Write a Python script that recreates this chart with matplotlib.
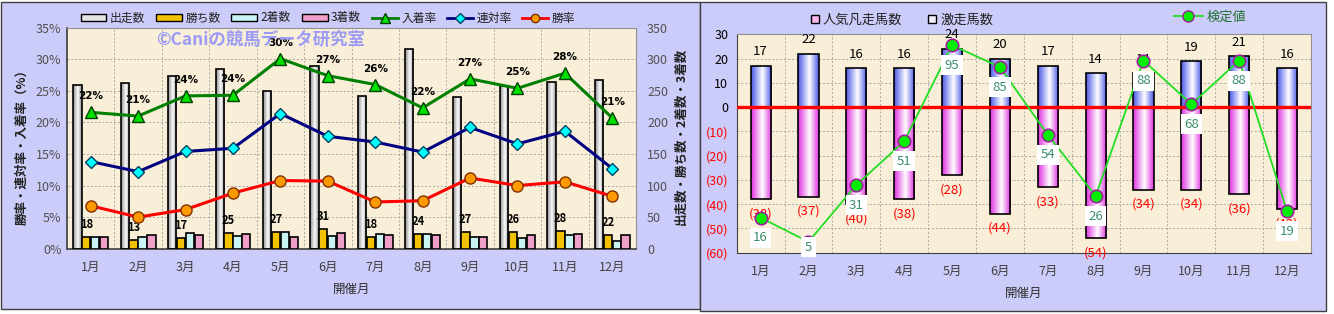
import numpy as np
import matplotlib.pyplot as plt
from matplotlib.patches import Rectangle
from matplotlib.lines import Line2D
from matplotlib.colors import LinearSegmentedColormap

plt.rcParams['font.family'] = ['Noto Sans CJK JP', 'DejaVu Sans']

# ---- data: left chart ----
months = [f'{i}月' for i in range(1, 13)]
starts = [260, 263, 274, 284, 250, 290, 242, 316, 241, 258, 264, 267]   # 出走数
wins = [18, 13, 17, 25, 27, 31, 18, 24, 27, 26, 28, 22]                # 勝ち数
seconds = [18, 19, 25, 20, 26, 20, 23, 24, 19, 17, 21, 12]             # 2着数
thirds = [18, 22, 22, 23, 19, 25, 21, 21, 18, 22, 23, 21]              # 3着数
place_rate = [21.6, 21.0, 24.2, 24.3, 30.1, 27.4, 26.0, 22.3, 26.9, 25.4, 27.8, 20.7]     # 入着率
quinella_rate = [13.8, 12.2, 15.4, 15.9, 21.4, 17.8, 16.9, 15.3, 19.2, 16.6, 18.6, 12.7]  # 連対率
win_rate = [6.8, 5.0, 6.2, 8.8, 10.8, 10.7, 7.4, 7.6, 11.2, 10.0, 10.6, 8.3]            # 勝率

# ---- data: right chart ----
upset = [17, 22, 16, 16, 24, 20, 17, 14, 14, 19, 21, 16]                # 激走馬数
flop = [-38, -37, -40, -38, -28, -44, -33, -54, -34, -34, -36, -42]     # 人気凡走馬数
test_val = [16, 5, 31, 51, 95, 85, 54, 26, 88, 68, 88, 19]              # 検定値

W, H = 1334, 314
fig = plt.figure(figsize=(W / 100, H / 100), dpi=100)
fig.patch.set_facecolor('white')
lav = '#CCCCFA'
fig.add_artist(Rectangle((1 / W, 1 - 309 / H), 699 / W, 307 / H, transform=fig.transFigure,
                         fc=lav, ec='#404040', lw=1, zorder=-5))
fig.add_artist(Rectangle((700 / W, 1 - 311 / H), 626 / W, 309 / H, transform=fig.transFigure,
                         fc=lav, ec='#404040', lw=1, zorder=-5))

plot_bg = '#F9EFD8'
grid_kw = dict(color='#A8A8A8', lw=0.7, ls=(0, (2, 2)))
grad = np.linspace(0, 1, 64).reshape(1, -1)


def make_cmap(c):
    return LinearSegmentedColormap.from_list('g', [(0, c), (0.55, '#FFFFFF'), (1, c)])


def grad_bars(ax, xs, hs, w, cmap):
    bars = ax.bar(xs, hs, w, facecolor='none', edgecolor='black', lw=1.2, zorder=3)
    for b in bars:
        x0, y0 = b.get_x(), b.get_y()
        im = ax.imshow(grad, cmap=cmap, aspect='auto', interpolation='bicubic',
                       extent=(x0, x0 + b.get_width(), y0, y0 + b.get_height()), zorder=2.5)
        im.set_clip_path(b)
    return bars


x = np.arange(12) + 0.5

# ================= left chart =================
axL = fig.add_axes([67 / W, 1 - 248.7 / H, 569 / W, 221 / H])
axL.set_facecolor(plot_bg)
axP = axL.twinx()

bw = 0.175
grad_bars(axL, x - 0.28, starts, bw, make_cmap('#8C8C8C'))
axL.bar(x - 0.095, wins, bw, color='#F2C200', ec='black', lw=1.2, zorder=3)
axL.bar(x + 0.095, seconds, bw, color='#C8F4F4', ec='black', lw=1.2, zorder=3)
axL.bar(x + 0.28, thirds, bw, color='#F0A0C8', ec='black', lw=1.2, zorder=3)
for xi, v in zip(x, wins):
    axL.annotate(str(v), (xi - 0.095, v), xytext=(0, 9), textcoords='offset points',
                 ha='center', va='center', fontsize=8, fontweight='bold', zorder=6)

axL.set_xlim(0, 12)
axL.set_ylim(0, 350)
axL.set_yticks(range(0, 351, 50))
axL.set_xticks(x)
axL.set_xticklabels(months)
axL.set_xticks(range(13), minor=True)
axL.grid(axis='y', **grid_kw)
axL.grid(axis='x', which='minor', **grid_kw)
axL.set_axisbelow(True)
axL.yaxis.tick_right()
axL.tick_params(axis='y', length=0, labelsize=9, labelcolor='#505050', pad=8)
axL.tick_params(axis='x', which='both', length=0, labelsize=9, labelcolor='#404040', pad=9)
for s in ['top', 'right']:
    axL.spines[s].set_color('#909090')
for s in ['left', 'bottom']:
    axL.spines[s].set_color('#404040')
    axL.spines[s].set_linewidth(1.2)
axL.set_xlabel('開催月', fontsize=9, color='#303030', labelpad=6)

axP.plot(x, place_rate, color='#008000', lw=2.2, marker='^', ms=9, mfc='#00E000',
         mec='#004000', mew=1, zorder=5)
axP.plot(x, quinella_rate, color='#000080', lw=2.2, marker='D', ms=6, mfc='#00FFFF',
         mec='#004060', mew=1, zorder=5)
axP.plot(x, win_rate, color='#FF0000', lw=2.2, marker='o', ms=8, mfc='#FF9900',
         mec='#803000', mew=1, zorder=5)
for xi, v in zip(x, place_rate):
    axP.annotate(f'{v:.0f}%', (xi, v), xytext=(0, 11.5), textcoords='offset points',
                 ha='center', va='center', fontsize=7.5, fontweight='bold', family='DejaVu Sans')
axP.set_ylim(0, 35)
axP.set_yticks(range(0, 36, 5))
axP.set_yticklabels([f'{v}%' for v in range(0, 36, 5)])
axP.yaxis.tick_left()
axP.tick_params(axis='y', length=0, labelsize=9, labelcolor='#505050', pad=4)
for s in axP.spines.values():
    s.set_visible(False)

fig.text(22 / W, 1 - 144 / H, '勝率・連対率・入着率（%）', rotation=90, ha='center', va='center',
         fontsize=9, fontweight='bold', color='#202020')
fig.text(681 / W, 1 - 136 / H, '出走数・勝ち数・2着数・3着数', rotation=90, ha='center', va='center',
         fontsize=9, fontweight='bold', color='#202020')
fig.text(156 / W, 1 - 40 / H, '©Caniの競馬データ研究室', ha='left', va='center',
         fontsize=12.5, fontweight='bold', color='#9C9CF6', zorder=10)

hL = [Rectangle((0, 0), 1, 1, fc='#E4E4E4', ec='black', lw=1),
      Rectangle((0, 0), 1, 1, fc='#F2C200', ec='black', lw=1),
      Rectangle((0, 0), 1, 1, fc='#C8F4F4', ec='black', lw=1),
      Rectangle((0, 0), 1, 1, fc='#F0A0C8', ec='black', lw=1),
      Line2D([], [], color='#008000', lw=2, marker='^', ms=7, mfc='#00E000', mec='#004000'),
      Line2D([], [], color='#000080', lw=2, marker='D', ms=5, mfc='#00FFFF', mec='#004060'),
      Line2D([], [], color='#FF0000', lw=2, marker='o', ms=6, mfc='#FF9900', mec='#803000')]
fig.legend(hL, ['出走数', '勝ち数', '2着数', '3着数', '入着率', '連対率', '勝率'],
           loc='center', bbox_to_anchor=(328 / W, 1 - 18 / H), ncol=7, frameon=False,
           fontsize=8.5, handlelength=2.2, handleheight=0.55, handletextpad=0.3,
           columnspacing=0.9, labelcolor='#202020')

# ================= right chart =================
axR = fig.add_axes([736.7 / W, 1 - 252.7 / H, 574.3 / W, 218.4 / H])
axR.set_facecolor(plot_bg)
rw = 0.42
grad_bars(axR, x, upset, rw, make_cmap('#4858E8'))
grad_bars(axR, x, flop, rw, make_cmap('#E030E0'))
axR.axhline(0, color='#FF0000', lw=2.4, zorder=4)
for xi, v in zip(x, upset):
    axR.annotate(str(v), (xi, v), xytext=(0, 10), textcoords='offset points',
                 ha='center', va='center', fontsize=9.5, color='black', zorder=6)
for xi, v in zip(x, flop):
    axR.annotate(f'({-v})', (xi, v), xytext=(0, -10.5), textcoords='offset points',
                 ha='center', va='center', fontsize=9.5, color='#FF0000', zorder=6)

axR.set_xlim(0, 12)
axR.set_ylim(-60, 30)
yt = list(range(-60, 31, 10))
axR.set_yticks(yt)
axR.set_yticklabels([f'({-v})' if v < 0 else str(v) for v in yt])
for lab, v in zip(axR.get_yticklabels(), yt):
    lab.set_color('#FF0000' if v < 0 else 'black')
axR.set_xticks(x)
axR.set_xticklabels(months)
axR.set_xticks(range(13), minor=True)
axR.grid(axis='y', **grid_kw)
axR.grid(axis='x', which='minor', **grid_kw)
axR.set_axisbelow(True)
axR.tick_params(axis='y', length=0, labelsize=9, pad=6)
axR.tick_params(axis='x', which='both', length=0, labelsize=9, labelcolor='#404040', pad=9)
for s in axR.spines.values():
    s.set_color('#909090')
axR.spines['left'].set_color('#404040')
axR.spines['bottom'].set_color('#404040')
axR.set_xlabel('開催月', fontsize=9, color='#303030', labelpad=6)

axT = axR.twinx()
axT.set_ylim(0, 100)
axT.axis('off')
axT.plot(x, test_val, color='#22DD22', lw=1.3, marker='o', ms=9, mfc='#00EE00',
         mec='#A020A0', mew=1.2, zorder=5)
for xi, v in zip(x, test_val):
    axT.text(xi, max(v - 9.2, 2.5), str(v), ha='center', va='center', fontsize=9.5,
             color='#3A8F6A', zorder=7, bbox=dict(fc='white', ec='none', pad=2.5))

hR = [Rectangle((0, 0), 1, 1, fc='#F8B8F0', ec='black', lw=1),
      Rectangle((0, 0), 1, 1, fc='#F0F0FF', ec='black', lw=1)]
fig.legend(hR, ['人気凡走馬数', '激走馬数'], loc='center', bbox_to_anchor=(902 / W, 1 - 20 / H),
           ncol=2, frameon=False, fontsize=9.5, handlelength=0.6, handleheight=0.6,
           handletextpad=0.3, columnspacing=2.0, labelcolor='#202020')
hT = [Line2D([], [], color='#22DD22', lw=1.3, marker='o', ms=8, mfc='#00EE00', mec='#A020A0')]
fig.legend(hT, ['検定値'], loc='center', bbox_to_anchor=(1210 / W, 1 - 17 / H), frameon=False,
           fontsize=9.5, handlelength=2.2, handletextpad=0.3, labelcolor='#207030')

fig.savefig('out.png', dpi=100)
